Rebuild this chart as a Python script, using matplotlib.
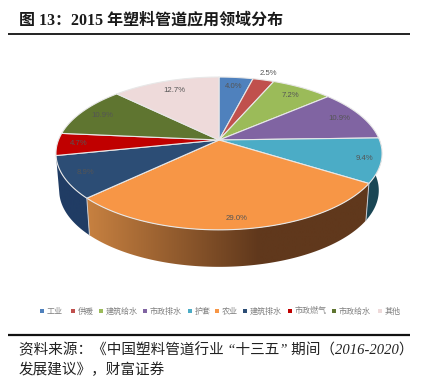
import numpy as np
import matplotlib
matplotlib.use('Agg')
import matplotlib.pyplot as plt
from matplotlib.patches import Polygon

serif_cjk = ['Liberation Serif', 'Noto Sans CJK SC']
plt.rcParams['font.family'] = serif_cjk

categories = ['工业', '供暖', '建筑给水', '市政排水', '护套', '农业', '建筑排水', '市政燃气', '市政给水', '其他']
values = [4.0, 2.5, 7.2, 10.9, 9.4, 29.0, 8.9, 4.7, 10.9, 12.7]
colors = ['#4f81bd', '#c0504d', '#9bbb59', '#8064a2', '#4bacc6', '#f79646', '#2c4d75', '#c00000', '#5f7530', '#eedada']
title = '图 13：2015 年塑料管道应用领域分布'
source_1 = '资料来源：《中国塑料管道行业 “十三五” 期间（2016-2020）'
source_2 = '发展建议》，财富证券'

# perspective of the pie, worked out from the picture
cx, cy = 219, 140
rx = 160.5
c = 0.176
a = -49.4
depth = 37
shrink = 0.98
label_r = [0.84, 1.12, 0.84, 0.85, 0.9, 0.9, 0.87, 0.87, 0.85, 0.82]
legend_x = [42, 73, 101, 145, 190, 217, 245, 290, 334, 380]


def project(theta, r=1.0):
    u = r * np.sin(theta)
    v = r * np.cos(theta)
    d = 1 + c * v
    return cx + rx * u / d, (a * v + cy) / d


fig = plt.figure(figsize=(4.29, 3.78), dpi=100)
ax = fig.add_axes([0, 0, 1, 1])
ax.axis('off')

edges = np.cumsum([0] + values) / sum(values) * 2 * np.pi

# horizontal gradients for the side wall
ramp = np.linspace(0, 1, 256)
orange_t = np.clip((ramp * 429 - 89) / 170, 0, 1)[None, :, None]
orange_side = (np.array([198, 128, 64]) + (np.array([96, 56, 28]) - np.array([198, 128, 64])) * orange_t) / 255
navy_side = np.ones((1, 256, 3)) * np.array([32, 60, 100]) / 255
teal_side = np.ones((1, 256, 3)) * np.array([26, 70, 84]) / 255
side_images = {4: teal_side, 6: navy_side, 5: orange_side}

for i in [4, 6, 5]:
    xs, ys = project(np.linspace(edges[i], edges[i + 1], 120))
    bx = cx + (xs - cx) * shrink
    pts = list(zip(xs, ys)) + list(zip(bx[::-1], ys[::-1] + depth))
    wall = Polygon(pts, facecolor='none', edgecolor='none')
    ax.add_patch(wall)
    im = ax.imshow(side_images[i], extent=(0, 429, 378, 0), aspect='auto', interpolation='bilinear')
    im.set_clip_path(wall)

ax.set_xlim(0, 429)
ax.set_ylim(378, 0)

# line between the side walls
for e in [edges[5], edges[6]]:
    x0, y0 = project(e)
    ax.plot([x0, cx + (x0 - cx) * shrink], [y0, y0 + depth], color='#c8ccd4', lw=0.7)

# top of the pie
for i in range(len(values)):
    xs, ys = project(np.linspace(edges[i], edges[i + 1], 80))
    pts = [(cx, cy)] + list(zip(xs, ys))
    ax.add_patch(Polygon(pts, facecolor=colors[i], edgecolor='#e8e8e8', lw=0.8, joinstyle='round'))

# data labels
for i, val in enumerate(values):
    mid = (edges[i] + edges[i + 1]) / 2
    lx, ly = project(mid, label_r[i])
    ax.text(lx, ly, f'{val:.1f}%', ha='center', va='center', fontsize=5.6,
            color='#555555', family=['Liberation Sans', 'Noto Sans CJK SC'])

# legend
for name, col, lx in zip(categories, colors, legend_x):
    ax.scatter([lx], [311], s=5, marker='s', color=col, linewidths=0)
    ax.text(lx + 5, 311, name, ha='left', va='center', fontsize=5.8, color='#808080',
            family=['Noto Sans CJK SC'])

# title, rules and source
ax.text(19, 20, title, ha='left', va='center', fontsize=11.5, fontweight='bold', color='#1a1a1a')
ax.plot([8, 410], [33.5, 33.5], color='#111111', lw=1.3, solid_capstyle='butt')
ax.plot([8, 410], [335, 335], color='#111111', lw=1.6, solid_capstyle='butt')
ax.text(19, 350, source_1, ha='left', va='center', fontsize=10.5, style='italic', color='#222222')
ax.text(19, 370, source_2, ha='left', va='center', fontsize=10.5, style='italic', color='#222222')

fig.savefig('out.png', dpi=100, facecolor='white')
